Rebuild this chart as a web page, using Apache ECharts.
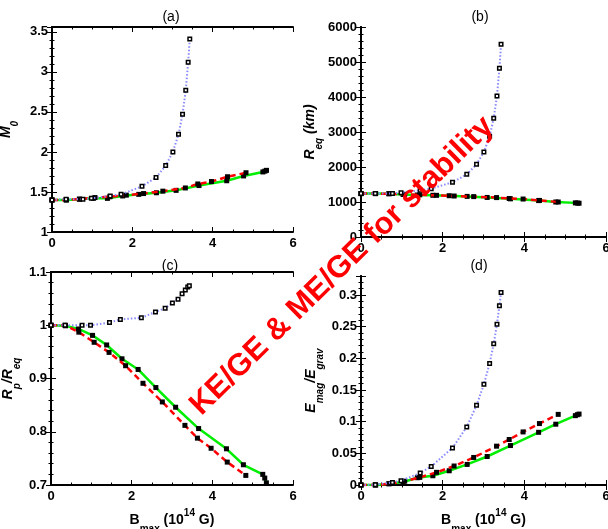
<!DOCTYPE html>
<html>
<head>
<meta charset="utf-8">
<script src="https://cdn.jsdelivr.net/npm/echarts@6/dist/echarts.min.js"></script>
<style>
html,body{margin:0;padding:0;background:#fff;}
#main{width:608px;height:529px;}
</style>
</head>
<body>
<div id="main"></div>
<script>
/*----------data----------*/
var blueX=[0,0.35,0.77,0.98,1.45,1.72,2.24,2.59,2.83,3.01,3.15,3.25,3.33,3.39,3.43];
var redX=[0,0.35,0.69,1.07,1.44,1.85,2.28,2.76,3.32,3.63,3.97,4.37,4.83];
var greenX=[0,0.36,0.68,1.03,1.38,1.76,2.16,2.60,3.09,3.66,4.35,4.77,5.25,5.30,5.34];
// (a) M0
var m0Blue=[1.40,1.41,1.41,1.42,1.45,1.47,1.57,1.68,1.83,2.00,2.22,2.47,2.77,3.12,3.41];
var m0Red=[1.40,1.40,1.41,1.43,1.44,1.46,1.48,1.51,1.55,1.60,1.63,1.69,1.74];
var m0Green=[1.40,1.40,1.41,1.42,1.42,1.45,1.47,1.49,1.52,1.58,1.64,1.70,1.75,1.76,1.77];
// (b) Req (km)
var reqBlue=[1240,1243,1243,1266,1334,1381,1562,1790,2076,2429,2876,3390,4029,4820,5505];
var reqRed=[1240,1240,1235,1220,1205,1190,1171,1154,1126,1100,1085,1045,1000];
var reqGreen=[1240,1240,1238,1215,1200,1191,1180,1160,1130,1090,1040,1000,975,970,965];
// (c) Rp/Req
var rpBlue=[1.0,1.0,1.0,1.0,1.005,1.011,1.014,1.025,1.032,1.042,1.049,1.059,1.066,1.072,1.074];
var rpRed=[1.0,1.0,0.987,0.968,0.949,0.924,0.891,0.856,0.812,0.788,0.769,0.743,0.718];
var rpGreen=[1.0,0.999,0.993,0.981,0.963,0.937,0.917,0.883,0.846,0.806,0.768,0.738,0.720,0.713,0.704];
// (d) Emag/Egrav
var emBlue=[0,0.0005,0.004,0.0068,0.0188,0.0293,0.0586,0.0916,0.126,0.159,0.192,0.223,0.254,0.283,0.304];
var emRed=[0,0,0.002,0.006,0.012,0.020,0.030,0.0435,0.0613,0.0718,0.0838,0.097,0.1115];
var emGreen=[0,0,0.002,0.0047,0.0115,0.0146,0.0225,0.0325,0.045,0.0623,0.0832,0.096,0.1095,0.111,0.112];

/*----------chart----------*/
var FONT='"Liberation Sans", Arial, sans-serif';
var chart=echarts.init(document.getElementById('main'));

function pairs(xs,ys){	//zip x and y
	var out=[];
	for(var i=0;i<ys.length;i++){out.push([xs[i],ys[i]]);}
	return out;
}
function tickFmt(step){	//hide labels that are not on the step
	return function(v){
		var k=v/step;
		if(Math.abs(k-Math.round(k))>1e-6) return '';
		return String(+v.toFixed(3));
	};
}
var rich={
	b:{fontFamily:FONT,fontWeight:'bold',fontSize:14,color:'#000',lineHeight:20},
	i:{fontFamily:FONT,fontWeight:'bold',fontStyle:'italic',fontSize:14,color:'#000',lineHeight:20},
	sub:{fontFamily:FONT,fontWeight:'bold',fontStyle:'italic',fontSize:10,color:'#000',lineHeight:20,verticalAlign:'bottom',padding:[0,0,-4,0]},
	bsub:{fontFamily:FONT,fontWeight:'bold',fontSize:10,color:'#000',lineHeight:20,verticalAlign:'bottom',padding:[0,0,-4,0]},
	sup:{fontFamily:FONT,fontWeight:'bold',fontSize:10,color:'#000',lineHeight:20,verticalAlign:'top',padding:[-2,0,0,0]}
};
var grids=[
	{left:52,top:27,width:241,height:205,outerBoundsMode:'none'},
	{left:361,top:27,width:245,height:210,outerBoundsMode:'none'},
	{left:51,top:272,width:242,height:213,outerBoundsMode:'none'},
	{left:361,top:276,width:245,height:209,outerBoundsMode:'none'}
];
var yCfg=[
	{min:1,max:3.56,interval:0.5,name:'{i|M}{sub|0}',gap:36},
	{min:0,max:6000,interval:1000,name:'{i|R}{sub|eq}{i| (km)}',gap:37},
	{min:0.7,max:1.1,interval:0.1,name:'{i|R}{sub|p}{i|/R}{sub|eq}',gap:33},
	{min:0,max:0.33,interval:0.05,name:'{i|E}{sub|mag}{i|/E}{sub|grav}',gap:40}
];
var xName='{b|B}{bsub|max}{b| (10}{sup|14}{b| G)}';
var panels=[
	[m0Blue,m0Red,m0Green],
	[reqBlue,reqRed,reqGreen],
	[rpBlue,rpRed,rpGreen],
	[emBlue,emRed,emGreen]
];
var titles=['(a)','(b)','(c)','(d)'];
var titlePos=[[166,5],[475,5],[165,254],[474,254]];

var xAxes=[],yAxes=[],series=[],titleList=[];
var line={lineStyle:{color:'#000',width:2}};
var tickIn={show:true,inside:true,length:5,lineStyle:{color:'#000',width:1}};
var minorIn={show:true,splitNumber:4,length:2.5,lineStyle:{color:'#000',width:1}};
var minorY={show:true,splitNumber:5,length:2.5,lineStyle:{color:'#000',width:1}};
for(var g=0;g<4;g++){
	var bottomRow=g>=2;
	xAxes.push({
		type:'value',gridIndex:g,min:0,max:6,interval:2,position:'bottom',
		axisLine:line,axisTick:tickIn,minorTick:minorIn,splitLine:{show:false},
		axisLabel:{fontFamily:FONT,fontWeight:'bold',fontSize:13,color:'#000',margin:5},
		name:bottomRow?xName:'',nameLocation:'middle',nameGap:25,nameTextStyle:{rich:rich}
	});
	xAxes.push({
		type:'value',gridIndex:g,min:0,max:6,interval:2,position:'top',
		axisLine:line,axisTick:tickIn,minorTick:minorIn,splitLine:{show:false},axisLabel:{show:false}
	});
	var c=yCfg[g];
	yAxes.push({
		type:'value',gridIndex:g,min:c.min,max:c.max,interval:c.interval,position:'left',
		axisLine:line,axisTick:tickIn,minorTick:minorY,splitLine:{show:false},
		axisLabel:{fontFamily:FONT,fontWeight:'bold',fontSize:13,color:'#000',margin:4,formatter:tickFmt(c.interval)},
		name:c.name,nameLocation:'middle',nameGap:c.gap,nameRotate:90,nameTextStyle:{rich:rich}
	});
	yAxes.push({
		type:'value',gridIndex:g,min:c.min,max:c.max,interval:c.interval,position:'right',
		axisLine:line,axisTick:tickIn,minorTick:minorY,splitLine:{show:false},axisLabel:{show:false}
	});
	var d=panels[g];
	series.push({
		type:'line',xAxisIndex:2*g,yAxisIndex:2*g,data:pairs(greenX,d[2]),
		symbol:'rect',symbolSize:5,itemStyle:{color:'#000'},
		lineStyle:{color:'#00ee00',width:2.5,type:'solid'},z:3,silent:true,animation:false
	});
	series.push({
		type:'line',xAxisIndex:2*g,yAxisIndex:2*g,data:pairs(redX,d[1]),
		symbol:'rect',symbolSize:5,itemStyle:{color:'#000'},
		lineStyle:{color:'#ff0000',width:2.5,type:[6,4]},z:4,silent:true,animation:false
	});
	series.push({
		type:'line',xAxisIndex:2*g,yAxisIndex:2*g,data:pairs(blueX,d[0]),
		symbol:'rect',symbolSize:3.5,itemStyle:{color:'#fff',borderColor:'#000',borderWidth:1.5},
		lineStyle:{color:'#8888ff',width:2,type:[1.5,2]},z:5,silent:true,animation:false
	});
	titleList.push({
		text:titles[g],left:titlePos[g][0],top:titlePos[g][1],textAlign:'center',
		textStyle:{fontFamily:FONT,fontWeight:'normal',fontSize:14,color:'#000'}
	});
}

var option={
	backgroundColor:'#fff',
	animation:false,
	title:titleList,
	grid:grids,
	xAxis:xAxes,
	yAxis:yAxes,
	series:series,
	graphic:[{
		type:'text',x:342,y:266,rotation:44.5*Math.PI/180,z:100,silent:true,
		style:{text:'KE/GE & ME/GE for stability',fill:'#ff0000',font:'bold 31px '+FONT,textAlign:'center',textVerticalAlign:'middle'}
	}]
};
chart.setOption(option);
</script>
</body>
</html>
